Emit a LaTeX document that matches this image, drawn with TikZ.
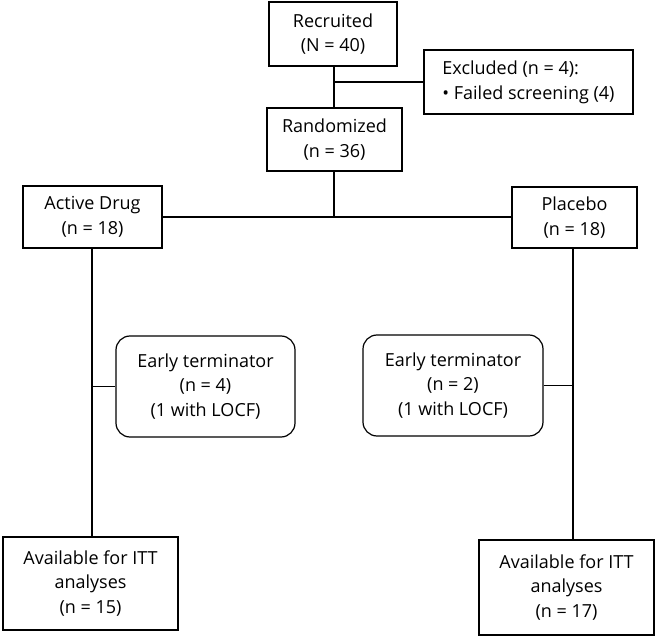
\documentclass[tikz,border=0pt]{standalone}
\usepackage{fontspec}
\setmainfont{Open Sans}
\begin{document}
\begin{tikzpicture}[x=1pt,y=-1pt,
  box/.style={draw,line width=1.2pt,align=center,inner sep=0pt,font=\fontsize{18}{24.5}\selectfont},
  rbox/.style={box,rounded corners=14pt},
  ln/.style={line width=1.2pt}]
\useasboundingbox (0,0) rectangle (657,637);
\node[box,minimum width=128,minimum height=64] (rec) at (333,34) {Recruited\\(N = 40)};
\node[box,minimum width=209,minimum height=64] (exc) at (528.5,82) {\begin{tabular}{@{}l@{}}Excluded (n = 4):\\• Failed screening (4)\end{tabular}};
\node[box,minimum width=135,minimum height=63] (ran) at (334.5,139.5) {Randomized\\(n = 36)};
\node[box,minimum width=139,minimum height=62] (act) at (92.5,217) {Active Drug\\(n = 18)};
\node[box,minimum width=125,minimum height=61] (pla) at (574.5,217.5) {Placebo\\(n = 18)};
\node[rbox,minimum width=179,minimum height=101] (et1) at (205.5,386.5) {Early terminator\\(n = 4)\\(1 with LOCF)};
\node[rbox,minimum width=180,minimum height=101] (et2) at (453,385.5) {Early terminator\\(n = 2)\\(1 with LOCF)};
\node[box,minimum width=175,minimum height=93] (av1) at (90.5,583.5) {Available for ITT\\analyses\\(n = 15)};
\node[box,minimum width=175,minimum height=95] (av2) at (566.5,587.5) {Available for ITT\\analyses\\(n = 17)};
\coordinate (c1) at (334,82);
\coordinate (c2) at (334,217);
\draw[ln] (rec.south -| c1) -- (ran.north -| c1);
\draw[ln] (c1) -- (exc.west);
\draw[ln] (ran.south -| c2) -- (c2);
\draw[ln] (act.east |- c2) -- (pla.west |- c2);
\coordinate (l1) at (92,248);
\coordinate (r1) at (573,248);
\draw[ln] (l1) -- (l1 |- av1.north);
\draw[ln] (r1) -- (r1 |- av2.north);
\draw[ln] (l1 |- et1.west) -- (et1.west);
\draw[ln] (et2.east) -- (r1 |- et2.east);
\end{tikzpicture}
\end{document}
